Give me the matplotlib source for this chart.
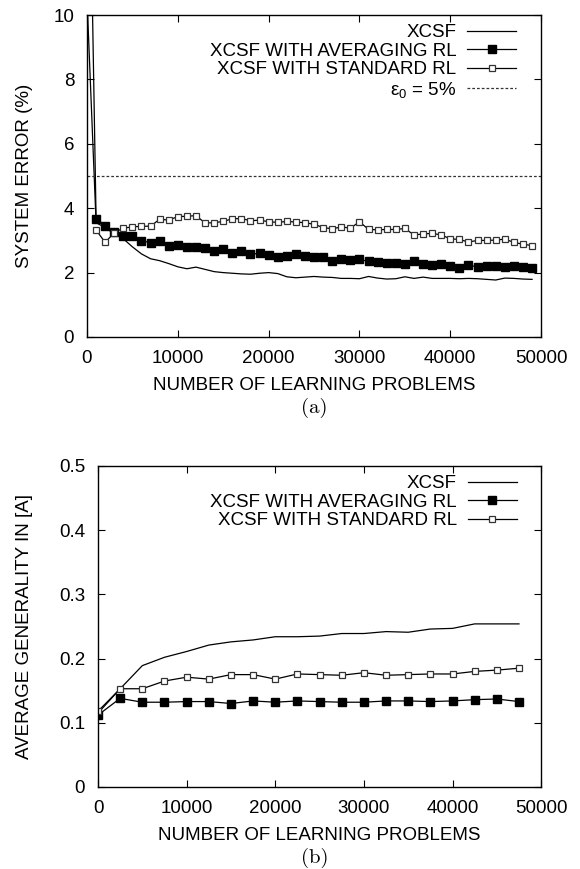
import matplotlib
matplotlib.use("Agg")
import matplotlib.pyplot as plt
import numpy as np

plt.rcParams["font.family"] = ["Liberation Sans", "DejaVu Sans"]
plt.rcParams["mathtext.default"] = "regular"

# (a) system error, sampled every 1000 problems
err_x = np.arange(0, 50000, 1000)
err_xcsf = [10.5, 3.55, 3.40, 3.20, 3.05, 2.80, 2.58, 2.43, 2.37, 2.28,
            2.18, 2.12, 2.17, 2.10, 2.03, 2.00, 1.98, 1.96, 1.95, 1.98,
            2.00, 1.97, 1.87, 1.84, 1.86, 1.88, 1.86, 1.85, 1.82, 1.82,
            1.81, 1.88, 1.83, 1.80, 1.81, 1.87, 1.82, 1.86, 1.82, 1.82,
            1.82, 1.81, 1.82, 1.81, 1.79, 1.77, 1.83, 1.82, 1.80, 1.79]
err_avg = [20.0, 3.68, 3.46, 3.27, 3.15, 3.13, 2.99, 2.93, 2.98, 2.84,
           2.87, 2.78, 2.81, 2.75, 2.68, 2.72, 2.62, 2.66, 2.57, 2.60,
           2.56, 2.47, 2.51, 2.57, 2.53, 2.50, 2.47, 2.35, 2.41, 2.38,
           2.41, 2.35, 2.32, 2.31, 2.31, 2.27, 2.36, 2.26, 2.23, 2.27,
           2.22, 2.13, 2.23, 2.18, 2.21, 2.20, 2.18, 2.21, 2.18, 2.15]
err_std = [np.nan, 3.32, 2.94, 3.24, 3.38, 3.42, 3.44, 3.44, 3.66, 3.63,
           3.74, 3.75, 3.77, 3.54, 3.55, 3.59, 3.67, 3.68, 3.61, 3.63,
           3.58, 3.56, 3.59, 3.57, 3.55, 3.50, 3.40, 3.36, 3.42, 3.38,
           3.58, 3.34, 3.33, 3.34, 3.34, 3.37, 3.17, 3.20, 3.22, 3.17,
           3.05, 3.03, 2.95, 3.00, 3.00, 3.01, 3.04, 2.94, 2.88, 2.84]
eps0 = 5.0

# (b) average generality in [A], sampled every 2500 problems
gen_x = np.arange(0, 50000, 2500)
gen_xcsf = [0.115, 0.153, 0.189, 0.202, 0.211, 0.221, 0.226, 0.229, 0.234, 0.234,
            0.235, 0.239, 0.239, 0.242, 0.241, 0.246, 0.247, 0.254, 0.254, 0.254]
gen_avg = [0.112, 0.138, 0.132, 0.132, 0.133, 0.133, 0.130, 0.134, 0.132, 0.134,
           0.133, 0.132, 0.132, 0.134, 0.134, 0.133, 0.134, 0.136, 0.137, 0.133]
gen_std = [0.118, 0.153, 0.153, 0.165, 0.171, 0.168, 0.175, 0.175, 0.168, 0.176,
           0.175, 0.174, 0.178, 0.174, 0.175, 0.176, 0.176, 0.180, 0.182, 0.185]

labels = ["XCSF", "XCSF WITH AVERAGING RL", "XCSF WITH STANDARD RL"]
FS = 13.5

fig = plt.figure(figsize=(5.8, 8.69), dpi=100)
ax1 = fig.add_axes([0.150, 0.6122, 0.783, 0.3705])
ax2 = fig.add_axes([0.169, 0.0944, 0.764, 0.3694])


def draw_series(ax, x, xcsf, avg, std):
    ax.plot(x, xcsf, color="black", lw=0.9, label=labels[0])
    ax.plot(x, avg, color="black", lw=0.9, marker="s", ms=5.5,
            mfc="black", mec="black", label=labels[1])
    ax.plot(x, std, color="black", lw=0.9, marker="s", ms=4.8,
            mfc="white", mec="#333333", mew=0.9, label=labels[2])


def style(ax, yticks, yticklabels, ylabel, ylabelpad):
    ax.set_xlim(0, 50000)
    ax.set_xticks(np.arange(0, 50001, 10000))
    ax.set_ylim(yticks[0], yticks[-1])
    ax.set_yticks(yticks)
    ax.set_yticklabels(yticklabels)
    ax.tick_params(direction="in", length=5, width=0.8, top=True, right=True,
                   labelsize=FS)
    ax.tick_params(axis="y", pad=9.2)
    ax.tick_params(axis="x", pad=9.4)
    for s in ax.spines.values():
        s.set_linewidth(1.0)
    ax.set_xlabel("NUMBER OF LEARNING PROBLEMS", fontsize=FS, labelpad=7.5)
    ax.set_ylabel(ylabel, fontsize=FS, labelpad=ylabelpad)
    ax.legend(loc="upper right", bbox_to_anchor=(0.945, 0.972),
              frameon=False, markerfirst=False, fontsize=FS,
              handlelength=2.6, handletextpad=0.6, labelspacing=0.08,
              borderpad=0, borderaxespad=0)


draw_series(ax1, err_x, err_xcsf, err_avg, err_std)
ax1.axhline(eps0, color="#333333", lw=0.9, dashes=(2.2, 1.6),
            label="ε$_0$ = 5%")
style(ax1, [0, 2, 4, 6, 8, 10], ["0", "2", "4", "6", "8", "10"],
      "SYSTEM ERROR (%)", 15)

draw_series(ax2, gen_x, gen_xcsf, gen_avg, gen_std)
style(ax2, [0, 0.1, 0.2, 0.3, 0.4, 0.5], ["0", "0.1", "0.2", "0.3", "0.4", "0.5"],
      "AVERAGE GENERALITY IN [A]", 19)

fig.text(0.542, 1 - 408 / 869, "(a)", ha="center", va="center",
         fontsize=15, family="cmr10")
fig.text(0.542, 1 - 858 / 869, "(b)", ha="center", va="center",
         fontsize=15, family="cmr10")

fig.savefig("out.png", dpi=100)
